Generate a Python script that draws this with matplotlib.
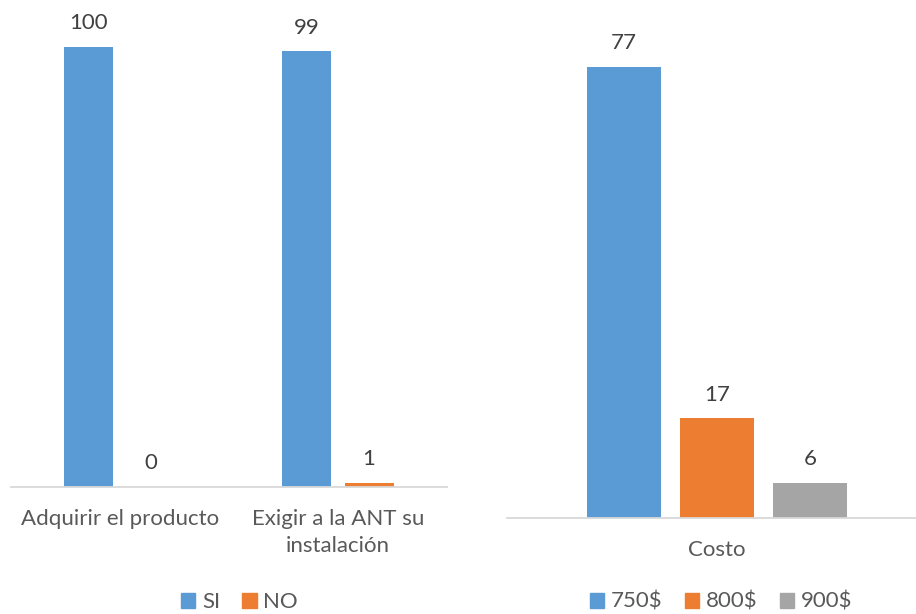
import matplotlib
matplotlib.use("Agg")
import matplotlib.pyplot as plt
from matplotlib.patches import Patch

# data
left_cats = ["Adquirir el producto", "Exigir a la ANT su\ninstalación"]
si_vals = [100, 99]
no_vals = [0, 1]
right_cat = ["Costo"]
cost_labels = ["750$", "800$", "900$"]
cost_vals = [77, 17, 6]

BLUE = "#5B9BD5"
ORANGE = "#ED7D31"
GRAY = "#A5A5A5"
TXT = "#595959"
LBL = "#404040"
FS = 16

plt.rcParams["font.family"] = ["Lato", "DejaVu Sans"]

W, H = 916, 614
fig = plt.figure(figsize=(W / 100, H / 100), dpi=100)


def px_axes(x0, x1, y_bottom, y_top):
    # pixel box (top-left origin) -> figure fraction axes
    return fig.add_axes([x0 / W, (H - y_bottom) / H, (x1 - x0) / W, (y_bottom - y_top) / H])


def style(ax):
    for s in ["top", "right", "left"]:
        ax.spines[s].set_visible(False)
    ax.spines["bottom"].set_color("#D9D9D9")
    ax.spines["bottom"].set_linewidth(1.3)
    ax.set_yticks([])
    ax.tick_params(axis="x", length=0, pad=16, labelsize=FS, labelcolor=TXT)


def labels(ax, bars, vals):
    for b, v in zip(bars, vals):
        ax.annotate(str(v), (b.get_x() + b.get_width() / 2, b.get_height()),
                    xytext=(0, 17), textcoords="offset points",
                    ha="center", va="center", fontsize=FS, color=LBL)


# left chart
ax1 = px_axes(11, 447, 487, 3)
style(ax1)
xs = range(len(left_cats))
w = 0.225
off = 0.1425
b1 = ax1.bar([x - off for x in xs], si_vals, w, color=BLUE)
b2 = ax1.bar([x + off for x in xs], no_vals, w, color=ORANGE)
labels(ax1, b1, si_vals)
labels(ax1, b2, no_vals)
ax1.set_xlim(-0.5, 1.5)
ax1.set_ylim(0, 110)
ax1.set_xticks(list(xs))
ax1.set_xticklabels(left_cats, va="top", linespacing=1.45)

# right chart
ax2 = px_axes(507, 927, 518, 20)
style(ax2)
cw = 0.176
step = 0.2214
for i, (lab, v, c) in enumerate(zip(cost_labels, cost_vals, [BLUE, ORANGE, GRAY])):
    b = ax2.bar([(i - 1) * step], [v], cw, color=c, label=lab)
    labels(ax2, b, [v])
ax2.set_xlim(-0.5, 0.5)
ax2.set_ylim(0, 85)
ax2.set_xticks([0])
ax2.set_xticklabels(right_cat)

leg_kw = dict(loc="center", frameon=False, fontsize=FS, labelcolor=TXT,
              handlelength=0.65, handleheight=0.65, handletextpad=0.3,
              columnspacing=1.0, borderaxespad=0)
fig.legend(handles=[Patch(color=BLUE, label="SI"), Patch(color=ORANGE, label="NO")],
           ncol=2, bbox_to_anchor=(239.5 / W, (H - 602) / H), **leg_kw)
fig.legend(handles=[Patch(color=c, label=l) for c, l in zip([BLUE, ORANGE, GRAY], cost_labels)],
           ncol=3, bbox_to_anchor=(721 / W, (H - 602) / H), **leg_kw)

fig.savefig("out.png", dpi=100)
